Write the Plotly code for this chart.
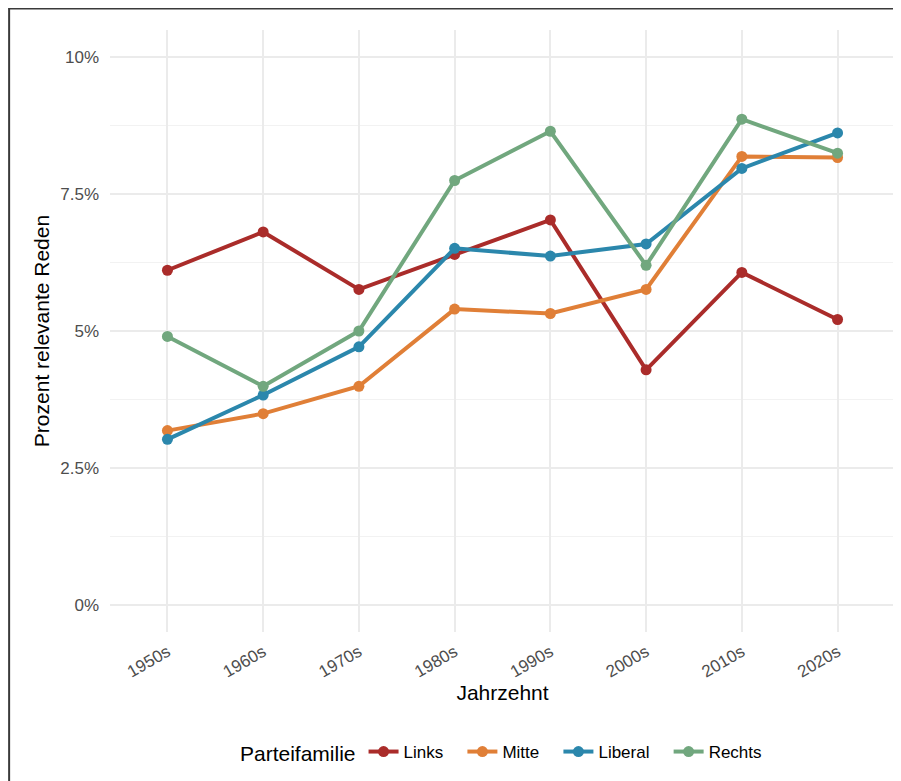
import plotly.graph_objects as go

decades = ["1950s", "1960s", "1970s", "1980s", "1990s", "2000s", "2010s", "2020s"]
links = [6.11, 6.81, 5.76, 6.40, 7.03, 4.29, 6.07, 5.21]
mitte = [3.18, 3.49, 3.99, 5.40, 5.32, 5.76, 8.19, 8.17]
liberal = [3.02, 3.83, 4.71, 6.51, 6.37, 6.59, 7.97, 8.62]
rechts = [4.90, 3.99, 5.00, 7.75, 8.65, 6.20, 8.87, 8.25]

series_names = ["Links", "Mitte", "Liberal", "Rechts"]
series_values = [links, mitte, liberal, rechts]
colors = ["#AA2C2A", "#E07F37", "#2B87AC", "#71A77E"]

y_tickvals = [0, 2.5, 5, 7.5, 10]
y_ticktext = ["0%", "2.5%", "5%", "7.5%", "10%"]
y_minor = [1.25, 3.75, 6.25, 8.75]

FONT = "Liberation Sans, Arial, Helvetica, sans-serif"
PAD = "&nbsp;&nbsp;&nbsp;"

fig = go.Figure()
for i, (name, vals, col) in enumerate(zip(series_names, series_values, colors)):
    label = name + (PAD if i < len(series_names) - 1 else "")
    fig.add_trace(go.Scatter(
        x=decades, y=vals, name=label, mode="lines+markers",
        line=dict(color=col, width=4),
        marker=dict(color=col, size=11),
        hovertemplate=name + ": %{y:.2f}%<extra></extra>",
    ))

# page has an 8px body margin; figure coordinates = page coordinates - 8
OFF = 8
W, H = 901 - OFF, 781 - OFF
ml, mr, mt, mb = 109.5 - OFF, 5.5, 30 - OFF, 149
pw, ph = W - ml - mr, H - mt - mb

def px2x(page_x):
    return (page_x - OFF - ml) / pw

def px2y(page_y):
    return (H - mb - (page_y - OFF)) / ph

fig.update_layout(
    width=W, height=H,
    margin=dict(l=ml, r=mr, t=mt, b=mb, pad=0),
    paper_bgcolor="white", plot_bgcolor="white",
    font=dict(family=FONT, color="black"),
    showlegend=True,
    legend=dict(
        orientation="h", x=0.5, xanchor="center", y=px2y(753), yanchor="middle",
        title=dict(text="Parteifamilie", font=dict(size=21, color="black"), side="left"),
        font=dict(size=17, color="black"),
        bgcolor="rgba(0,0,0,0)",
    ),
    xaxis=dict(
        type="category", categoryorder="array", categoryarray=decades,
        range=[-0.6, 7.6],
        showgrid=True, gridcolor="#EBEBEB", gridwidth=1.5,
        zeroline=False, showline=False, ticks="",
        tickangle=-30, tickfont=dict(size=17, color="#4D4D4D"),
        ticklabelstandoff=6,
        title=dict(text="Jahrzehnt", font=dict(size=21, color="black"), standoff=4),
    ),
    yaxis=dict(
        range=[-0.5, 10.5],
        tickvals=y_tickvals, ticktext=y_ticktext,
        showgrid=True, gridcolor="#EBEBEB", gridwidth=1.5,
        zeroline=False, showline=False, ticks="",
        tickfont=dict(size=17, color="#4D4D4D"),
        ticklabelstandoff=10,
        minor=dict(tickvals=y_minor, showgrid=True, gridcolor="#F2F2F2", gridwidth=1),
        title=dict(text="Prozent relevante Reden", font=dict(size=21, color="black"), standoff=4),
    ),
    shapes=[
        dict(type="line", xref="paper", yref="paper",
             x0=px2x(8.5), x1=px2x(8.5), y0=px2y(7.5), y1=px2y(781),
             line=dict(color="#3A3A3A", width=2)),
        dict(type="line", xref="paper", yref="paper",
             x0=px2x(8), x1=px2x(901), y0=px2y(8.5), y1=px2y(8.5),
             line=dict(color="#3A3A3A", width=2)),
    ],
)

fig.write_html("out.html")
